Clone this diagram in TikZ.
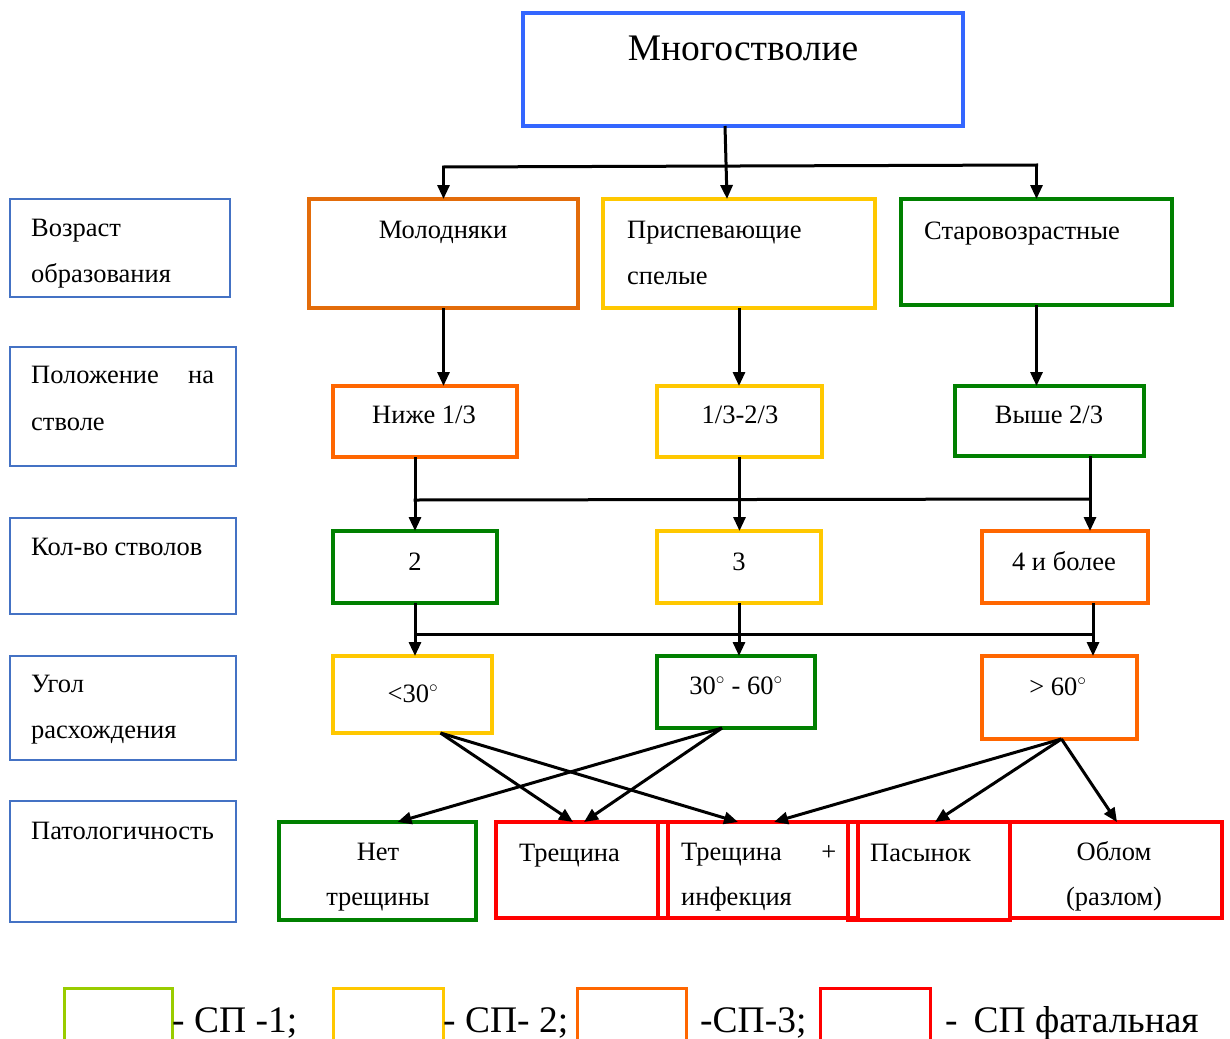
\documentclass[tikz,border=0pt]{standalone}
\usepackage{fontspec}
\setmainfont{Liberation Serif}
\usetikzlibrary{arrows.meta}
\definecolor{topblue}{RGB}{51,102,255}
\definecolor{sideblue}{RGB}{68,114,196}
\definecolor{orA}{RGB}{227,108,10}
\definecolor{orB}{RGB}{255,102,0}
\definecolor{yel}{RGB}{255,200,0}
\definecolor{grn}{RGB}{0,128,0}
\definecolor{rd}{RGB}{255,0,0}
\definecolor{lgrn}{RGB}{153,204,0}
\tikzset{
  frame/.style={draw=#1, line width=4.5pt, rectangle, inner sep=0pt, outer sep=0pt, anchor=north west},
  side/.style={draw=sideblue, line width=2.5pt, rectangle, inner sep=0pt, outer sep=0pt, anchor=north west},
  legbox/.style={draw=#1, line width=3pt, rectangle, inner sep=0pt, outer sep=0pt, anchor=north west, minimum height=90pt},
  txt/.style={inner sep=0pt, font=\fontsize{26.5}{30}\selectfont},
  tl/.style={txt, anchor=base west},
  tc/.style={txt, anchor=base},
  legtxt/.style={inner sep=0pt, anchor=base west, font=\fontsize{37.5}{42}\selectfont},
  arr/.style={line width=3pt, -{Triangle[length=14pt,width=12pt]}},
  bus/.style={line width=3pt, line cap=rect},
}
\begin{document}
\begin{tikzpicture}[x=1pt,y=-1pt]
\useasboundingbox[fill=white] (0,0) rectangle (1230,1038);

% top
\node[frame=topblue, minimum width=440pt, minimum height=113pt] (root) at (523,13) {};
\node[tc, font=\fontsize{37.5}{40}\selectfont] (roott) at (743,61) {Многостволие};

% side labels
\node[side, minimum width=220pt, minimum height=98pt] (s1) at (10,199) {};
\node[side, minimum width=226pt, minimum height=119pt] (s2) at (10,347) {};
\node[side, minimum width=226pt, minimum height=96pt] (s3) at (10,518) {};
\node[side, minimum width=226pt, minimum height=104pt] (s4) at (10,656) {};
\node[side, minimum width=226pt, minimum height=121pt] (s5) at (10,801) {};
\node[tl] (s1a) at (31,236) {Возраст};
\node[tl] (s1b) at (31,282) {образования};
\node[tl] (s2a) at (31,383) {\makebox[183pt][l]{Положение\hfill на}};
\node[tl] (s2b) at (31,430) {стволе};
\node[tl] (s3a) at (31,555) {Кол-во стволов};
\node[tl] (s4a) at (31,692) {Угол};
\node[tl] (s4b) at (31,738) {расхождения};
\node[tl] (s5a) at (31,839) {Патологичность};

% row 1
\node[frame=orA, minimum width=269pt, minimum height=109pt] (young) at (309,199) {};
\node[frame=yel, minimum width=272pt, minimum height=109pt] (ripe) at (603,199) {};
\node[frame=grn, minimum width=271pt, minimum height=106pt] (old) at (901,199) {};
\node[tc] (youngt) at (443,238) {Молодняки};
\node[tl] (ripet1) at (627,238) {Приспевающие};
\node[tl] (ripet2) at (627,284) {спелые};
\node[tl] (oldt) at (924,239) {Старовозрастные};

% row 2
\node[frame=orB, minimum width=184pt, minimum height=71pt] (low) at (333,386) {};
\node[frame=yel, minimum width=165pt, minimum height=71pt] (mid) at (657,386) {};
\node[frame=grn, minimum width=189pt, minimum height=70pt] (high) at (955,386) {};
\node[tc] (lowt) at (424,423) {Ниже 1/3};
\node[tc] (midt) at (740,423) {1/3-2/3};
\node[tc] (hight) at (1049,423) {Выше 2/3};

% row 3
\node[frame=grn, minimum width=164pt, minimum height=72pt] (two) at (333,531) {};
\node[frame=yel, minimum width=164pt, minimum height=72pt] (three) at (657,531) {};
\node[frame=orB, minimum width=166pt, minimum height=72pt] (four) at (982,531) {};
\node[tc] (twot) at (415,570) {2};
\node[tc] (threet) at (739,570) {3};
\node[tc] (fourt) at (1064,570) {4 и более};

% row 4
\node[frame=yel, minimum width=159pt, minimum height=77pt] (lt) at (333,656) {};
\node[frame=grn, minimum width=158pt, minimum height=72pt] (mid60) at (657,656) {};
\node[frame=orB, minimum width=155pt, minimum height=83pt] (gt) at (982,656) {};
\node[tc] (ltt) at (413,702) {<30$^{\circ}$};
\node[tc] (mid60t) at (736,694) {30$^{\circ}$ - 60$^{\circ}$};
\node[tc] (gtt) at (1058,695) {> 60$^{\circ}$};

% row 5
\node[frame=grn, minimum width=197pt, minimum height=98pt] (none) at (279,822) {};
\node[frame=rd, minimum width=172pt, minimum height=96pt] (crack) at (496,822) {};
\node[frame=rd, minimum width=200pt, minimum height=96pt] (crinf) at (658,822) {};
\node[frame=rd, minimum width=162pt, minimum height=98pt] (stepson) at (848,822) {};
\node[frame=rd, minimum width=212pt, minimum height=96pt] (brk) at (1010,822) {};
\node[tc] (nonet1) at (378,860) {Нет};
\node[tc] (nonet2) at (378,905) {трещины};
\node[tl] (crackt) at (519,861) {Трещина};
\node[tl] (crinft1) at (681,860) {\makebox[155pt][l]{Трещина\hfill +}};
\node[tl] (crinft2) at (681,905) {инфекция};
\node[tl] (stepsont) at (870,861) {Пасынок};
\node[tc] (brkt1) at (1114,860) {Облом};
\node[tc] (brkt2) at (1114,905) {(разлом)};

% connectors: top level
\draw[arr] ([xshift=-18pt]root.south) -- ([xshift=-12pt]ripe.north);
\coordinate (j1a) at ([yshift=32pt]young.north);
\coordinate (j1b) at ([yshift=34pt]old.north);
\draw[bus] (j1a) -- (j1b);
\draw[arr] (j1a) -- (young.north);
\draw[arr] (j1b) -- (old.north);

% row 1 -> row 2
\draw[arr] (young.south) -- (young.south |- low.north);
\draw[arr] (ripe.south) -- (ripe.south |- mid.north);
\draw[arr] (old.south) -- (old.south |- high.north);

% row 2 -> row 3
\coordinate (j2a) at ([yshift=31pt]two.north);
\coordinate (j2b) at ([xshift=25pt,yshift=32pt]four.north);
\draw[bus] (j2a) -- (j2b);
\draw[arr] (low.south -| two.north) -- (two.north);
\draw[arr] ([xshift=40.5pt]high.south) -- ([xshift=25pt]four.north);
\draw[arr] (mid.south) -- (mid.south |- three.north);

% row 3 -> row 4
\coordinate (j3a) at ([yshift=-31pt]two.south);
\coordinate (j3b) at ([xshift=28pt,yshift=-31pt]four.south);
\draw[bus] (j3a) -- (j3b);
\draw[arr] (two.south) -- (two.south |- lt.north);
\draw[arr] ([xshift=28pt]four.south) -- ([xshift=28pt]four.south |- gt.north);
\draw[arr] (three.south) -- (three.south |- mid60.north);

% row 4 -> row 5
\draw[arr] ([xshift=28pt]lt.south) -- ([xshift=-9pt]crack.north);
\draw[arr] ([xshift=28pt]lt.south) -- ([xshift=-20pt]crinf.north);
\draw[arr] ([xshift=-14pt]mid60.south) -- ([xshift=20pt]none.north);
\draw[arr] ([xshift=-14pt]mid60.south) -- ([xshift=2pt]crack.north);
\draw[arr] ([xshift=2pt]gt.south) -- ([xshift=16pt]crinf.north);
\draw[arr] ([xshift=2pt]gt.south) -- ([xshift=6pt]stepson.north);
\draw[arr] ([xshift=2pt]gt.south) -- ([xshift=1pt]brk.north);

% legend
\node[legbox=lgrn, minimum width=108pt] (lg1) at (64,988) {};
\node[legbox=yel, minimum width=110pt] (lg2) at (333,988) {};
\node[legbox=orB, minimum width=109pt] (lg3) at (577,988) {};
\node[legbox=rd, minimum width=110pt] (lg4) at (820,988) {};
\node[legtxt] (lg1t) at (172,1032) {- СП -1;};
\node[legtxt] (lg2t) at (443,1032) {- СП- 2;};
\node[legtxt] (lg3t) at (700,1032) {-СП-3;};
\node[legtxt] (lg4t) at (945,1032) {-\hspace{16pt}СП фатальная};
\end{tikzpicture}
\end{document}
